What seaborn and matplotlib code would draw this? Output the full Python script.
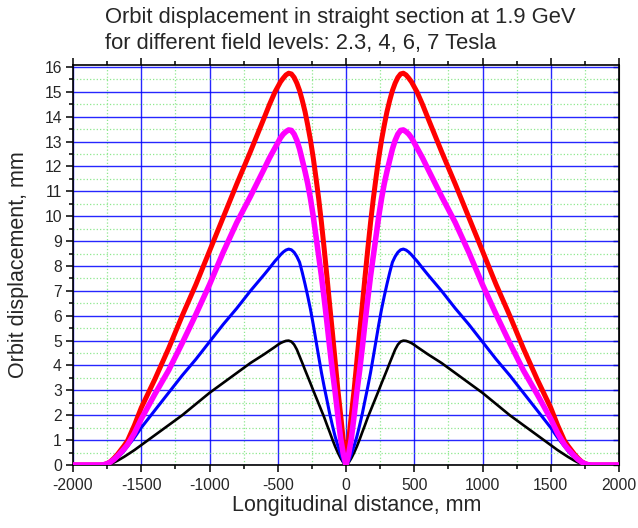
import pandas as pd
import seaborn as sns
import matplotlib.pyplot as plt
from matplotlib.ticker import MultipleLocator

# longitudinal position, mm
distance = [-2000, -1800, -1775, -1750, -1725, -1700, -1675, -1650, -1625, -1600, -1550, -1500,
            -1400, -1300, -1200, -1100, -1000, -900, -800, -700, -600, -560, -520, -500,
            -480, -460, -440, -420, -400, -380, -360, -340, -320, -300, -280, -260, -240,
            -220, -200, -180, -160, -140, -120, -100, -80, -60, -40, -20, 0,
            20, 40, 60, 80, 100, 120, 140, 160, 180, 200, 220, 240, 260, 280, 300, 320,
            340, 360, 380, 400, 420, 440, 460, 480, 500, 520, 560, 600, 700, 800, 900, 1000,
            1100, 1200, 1300, 1400, 1500, 1550, 1600, 1625, 1650, 1675, 1700, 1725, 1750,
            1775, 1800, 2000]

# orbit displacement, mm
disp_7T = [0, 0, 0.01, 0.06, 0.14, 0.27, 0.42, 0.6, 0.78, 0.98, 1.6, 2.3,
           3.45, 4.68, 6.0, 7.25, 8.6, 9.95, 11.3, 12.6, 13.95, 14.5, 15.0, 15.2,
           15.4, 15.55, 15.68, 15.75, 15.72, 15.58, 15.35, 15.05, 14.65, 14.2, 13.65, 13.05, 12.35,
           11.55, 10.7, 9.75, 8.7, 7.6, 6.45, 5.35, 4.2, 3.05, 2.05, 1.0, 0,
           1.0, 2.05, 3.05, 4.2, 5.35, 6.45, 7.6, 8.7, 9.75, 10.7, 11.55, 12.35, 13.05, 13.65, 14.2, 14.65,
           15.05, 15.35, 15.58, 15.72, 15.75, 15.68, 15.55, 15.4, 15.2, 15.0, 14.5, 13.95, 12.6, 11.3, 9.95, 8.6,
           7.25, 6.0, 4.68, 3.45, 2.3, 1.6, 0.98, 0.78, 0.6, 0.42, 0.27, 0.14, 0.06,
           0.01, 0, 0]
disp_6T = [0, 0, 0.01, 0.05, 0.12, 0.22, 0.35, 0.5, 0.65, 0.82, 1.28, 1.85,
           2.85, 3.8, 4.9, 6.05, 7.25, 8.55, 9.75, 10.8, 11.9, 12.35, 12.75, 12.95,
           13.15, 13.3, 13.4, 13.47, 13.45, 13.3, 13.05, 12.7, 12.25, 11.8, 11.3, 10.7, 10.0,
           9.2, 8.4, 7.6, 6.7, 5.75, 4.75, 3.8, 2.95, 2.0, 1.1, 0.45, 0,
           0.45, 1.1, 2.0, 2.95, 3.8, 4.75, 5.75, 6.7, 7.6, 8.4, 9.2, 10.0, 10.7, 11.3, 11.8, 12.25,
           12.7, 13.05, 13.3, 13.45, 13.47, 13.4, 13.3, 13.15, 12.95, 12.75, 12.35, 11.9, 10.8, 9.75, 8.55, 7.25,
           6.05, 4.9, 3.8, 2.85, 1.85, 1.28, 0.82, 0.65, 0.5, 0.35, 0.22, 0.12, 0.05,
           0.01, 0, 0]
disp_4T = [0, 0, 0.01, 0.05, 0.11, 0.2, 0.3, 0.42, 0.57, 0.75, 1.1, 1.5,
           2.2, 2.9, 3.6, 4.25, 4.95, 5.65, 6.3, 7.0, 7.65, 7.92, 8.2, 8.32,
           8.45, 8.56, 8.64, 8.68, 8.65, 8.55, 8.38, 8.15, 7.73, 7.27, 6.78, 6.25, 5.65,
           5.0, 4.35, 3.72, 3.15, 2.62, 2.08, 1.6, 1.15, 0.78, 0.45, 0.15, 0,
           0.15, 0.45, 0.78, 1.15, 1.6, 2.08, 2.62, 3.15, 3.72, 4.35, 5.0, 5.65, 6.25, 6.78, 7.27, 7.73,
           8.15, 8.38, 8.55, 8.65, 8.68, 8.64, 8.56, 8.45, 8.32, 8.2, 7.92, 7.65, 7.0, 6.3, 5.65, 4.95,
           4.25, 3.6, 2.9, 2.2, 1.5, 1.1, 0.75, 0.57, 0.42, 0.3, 0.2, 0.11, 0.05,
           0.01, 0, 0]
disp_23T = [0, 0, 0.01, 0.03, 0.06, 0.1, 0.17, 0.25, 0.33, 0.42, 0.6, 0.8,
            1.2, 1.6, 2.0, 2.45, 2.9, 3.3, 3.7, 4.1, 4.45, 4.6, 4.75, 4.83,
            4.9, 4.95, 4.99, 5.0, 4.96, 4.84, 4.64, 4.37, 4.1, 3.82, 3.55, 3.28, 3.0,
            2.73, 2.46, 2.19, 1.92, 1.62, 1.33, 1.03, 0.75, 0.5, 0.28, 0.1, 0,
            0.1, 0.28, 0.5, 0.75, 1.03, 1.33, 1.62, 1.92, 2.19, 2.46, 2.73, 3.0, 3.28, 3.55, 3.82, 4.1,
            4.37, 4.64, 4.84, 4.96, 5.0, 4.99, 4.95, 4.9, 4.83, 4.75, 4.6, 4.45, 4.1, 3.7, 3.3, 2.9,
            2.45, 2.0, 1.6, 1.2, 0.8, 0.6, 0.42, 0.33, 0.25, 0.17, 0.1, 0.06, 0.03,
            0.01, 0, 0]

series = {'2.3 T': disp_23T, '4 T': disp_4T, '7 T': disp_7T, '6 T': disp_6T}
colors = {'2.3 T': '#000000', '4 T': '#0000ff', '7 T': '#ff0000', '6 T': '#ff00ff'}
widths = {'2.3 T': 1.9, '4 T': 2.2, '7 T': 3.6, '6 T': 4.0}

data = pd.concat([pd.DataFrame({'x': distance, 'y': vals, 'field': name})
                  for name, vals in series.items()], ignore_index=True)

sns.set_style('ticks')
plt.rcParams['font.family'] = ['Liberation Sans', 'DejaVu Sans']
plt.rcParams['axes.unicode_minus'] = False

fig = plt.figure(figsize=(6.38, 5.28), dpi=100)
ax = fig.add_axes([73 / 638, 63 / 528, 546 / 638, 400 / 528])

for name in series:
    sns.lineplot(data=data[data['field'] == name], x='x', y='y', color=colors[name],
                 linewidth=widths[name], ax=ax, legend=False, zorder=3)

ax.set_xlim(-2000, 2000)
ax.set_ylim(0, 16.08)
ax.xaxis.set_major_locator(MultipleLocator(500))
ax.xaxis.set_minor_locator(MultipleLocator(250))
ax.yaxis.set_major_locator(MultipleLocator(1))
ax.yaxis.set_minor_locator(MultipleLocator(0.5))

ax.set_axisbelow(True)
ax.grid(which='major', color='#0000ff', linewidth=1.0, alpha=0.85)
ax.grid(which='minor', color='#8fe88f', linestyle=':', linewidth=0.9)

for s in ax.spines.values():
    s.set_linewidth(1.2)
    s.set_color('black')

ax.tick_params(axis='x', which='both', top=True, direction='out', labelsize=11.3,
               width=1.1, color='black', pad=4)
ax.tick_params(axis='y', which='both', direction='out', labelsize=11.3,
               width=1.1, color='black', pad=3)
ax.tick_params(which='major', length=5)
ax.tick_params(which='minor', length=3)

right = ax.secondary_yaxis('right')
right.yaxis.set_major_locator(MultipleLocator(1))
right.yaxis.set_minor_locator(MultipleLocator(0.5))
right.tick_params(which='both', direction='in', labelright=False, width=1.0)
right.tick_params(which='major', length=4)
right.tick_params(which='minor', length=2)

ax.set_xlabel('Longitudinal distance, mm', fontsize=15.5)
ax.set_ylabel('Orbit displacement, mm', fontsize=15.5)
ax.xaxis.set_label_coords((357 - 73) / 546, -0.075)
ax.yaxis.set_label_coords((29 - 73) / 546, 0.5)

fig.text(105 / 638, 1 - 18 / 528, 'Orbit displacement in straight section at 1.9 GeV',
         fontsize=15.8, ha='left', va='center')
fig.text(105 / 638, 1 - 43 / 528, 'for different field levels: 2.3, 4, 6, 7 Tesla',
         fontsize=15.8, ha='left', va='center')

fig.savefig('out.png', dpi=100)
